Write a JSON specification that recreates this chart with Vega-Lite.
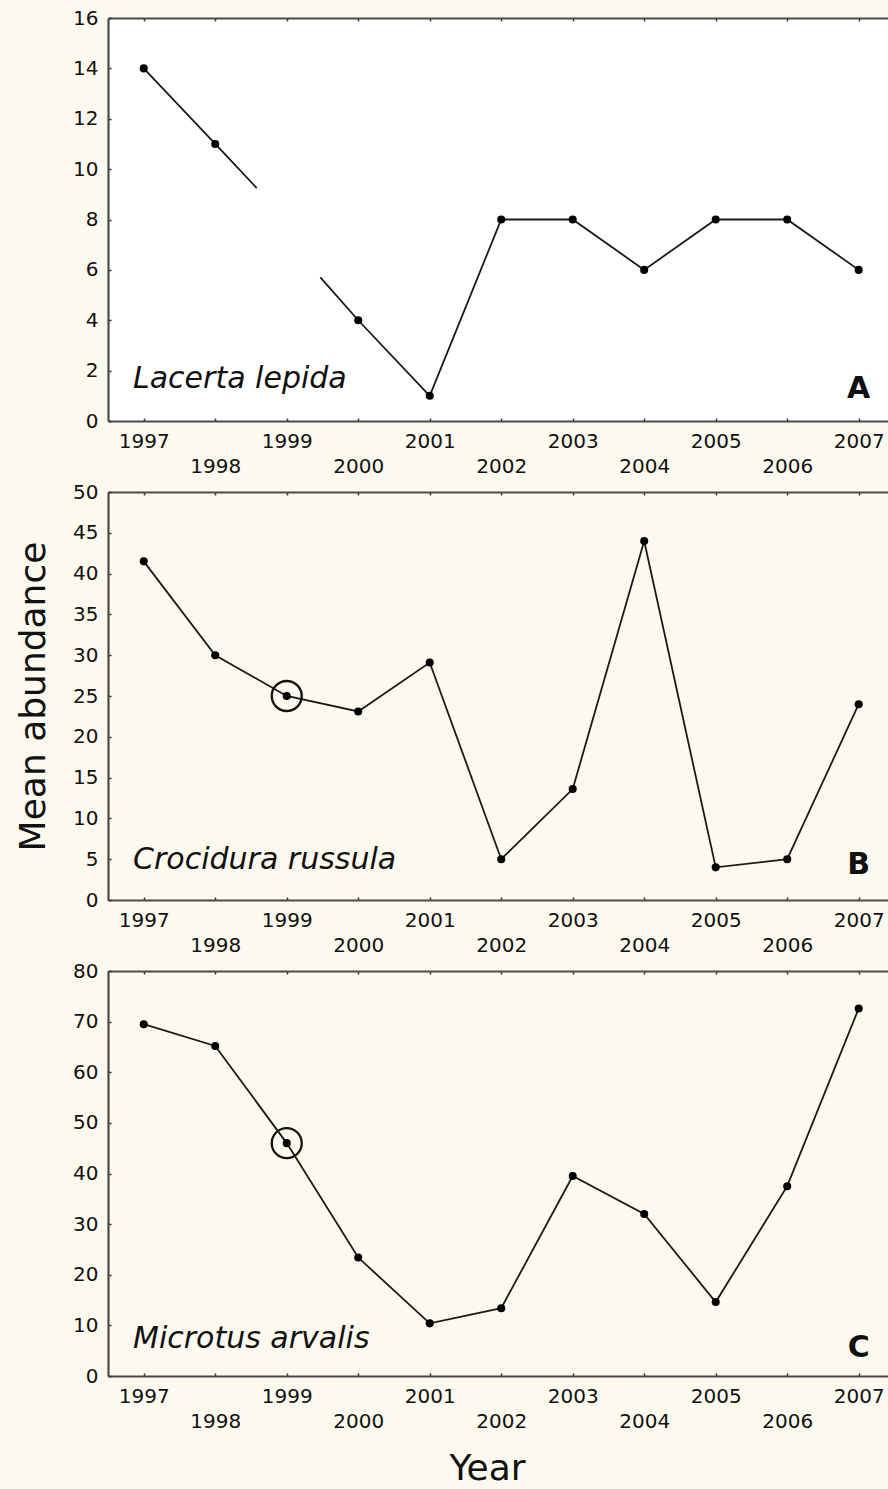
{
  "$schema": "https://vega.github.io/schema/vega-lite/v6.json",
  "background": "#fcf9ee",
  "padding": {"left": 15, "top": 8, "right": 0, "bottom": 4},
  "bounds": "flush",
  "spacing": 71,
  "config": {
    "font": "DejaVu Sans",
    "view": {"stroke": null},
    "axis": {
      "grid": false,
      "domainColor": "#4a4a4a",
      "domainWidth": 2.2,
      "tickColor": "#303030",
      "tickWidth": 1.5,
      "tickSize": -3,
      "labelFont": "DejaVu Sans",
      "labelFontSize": 20,
      "labelColor": "#111111",
      "titleFont": "DejaVu Sans",
      "titleFontWeight": "normal",
      "titleColor": "#111111"
    }
  },
  "datasets": {
    "abundance": [
      {"species": "Lacerta lepida", "year": 1997, "value": 14, "segment": 1, "observed": true},
      {"species": "Lacerta lepida", "year": 1998, "value": 11, "segment": 1, "observed": true},
      {"species": "Lacerta lepida", "year": 1998.58, "value": 9.25, "segment": 1, "observed": false},
      {"species": "Lacerta lepida", "year": 1999.47, "value": 5.7, "segment": 2, "observed": false},
      {"species": "Lacerta lepida", "year": 2000, "value": 4, "segment": 2, "observed": true},
      {"species": "Lacerta lepida", "year": 2001, "value": 1, "segment": 2, "observed": true},
      {"species": "Lacerta lepida", "year": 2002, "value": 8, "segment": 2, "observed": true},
      {"species": "Lacerta lepida", "year": 2003, "value": 8, "segment": 2, "observed": true},
      {"species": "Lacerta lepida", "year": 2004, "value": 6, "segment": 2, "observed": true},
      {"species": "Lacerta lepida", "year": 2005, "value": 8, "segment": 2, "observed": true},
      {"species": "Lacerta lepida", "year": 2006, "value": 8, "segment": 2, "observed": true},
      {"species": "Lacerta lepida", "year": 2007, "value": 6, "segment": 2, "observed": true},
      {"species": "Crocidura russula", "year": 1997, "value": 41.5, "segment": 1, "observed": true},
      {"species": "Crocidura russula", "year": 1998, "value": 30, "segment": 1, "observed": true},
      {"species": "Crocidura russula", "year": 1999, "value": 25, "segment": 1, "observed": true},
      {"species": "Crocidura russula", "year": 2000, "value": 23.1, "segment": 1, "observed": true},
      {"species": "Crocidura russula", "year": 2001, "value": 29.1, "segment": 1, "observed": true},
      {"species": "Crocidura russula", "year": 2002, "value": 5, "segment": 1, "observed": true},
      {"species": "Crocidura russula", "year": 2003, "value": 13.6, "segment": 1, "observed": true},
      {"species": "Crocidura russula", "year": 2004, "value": 44, "segment": 1, "observed": true},
      {"species": "Crocidura russula", "year": 2005, "value": 4, "segment": 1, "observed": true},
      {"species": "Crocidura russula", "year": 2006, "value": 5, "segment": 1, "observed": true},
      {"species": "Crocidura russula", "year": 2007, "value": 24, "segment": 1, "observed": true},
      {"species": "Microtus arvalis", "year": 1997, "value": 69.5, "segment": 1, "observed": true},
      {"species": "Microtus arvalis", "year": 1998, "value": 65.2, "segment": 1, "observed": true},
      {"species": "Microtus arvalis", "year": 1999, "value": 46, "segment": 1, "observed": true},
      {"species": "Microtus arvalis", "year": 2000, "value": 23.4, "segment": 1, "observed": true},
      {"species": "Microtus arvalis", "year": 2001, "value": 10.4, "segment": 1, "observed": true},
      {"species": "Microtus arvalis", "year": 2002, "value": 13.4, "segment": 1, "observed": true},
      {"species": "Microtus arvalis", "year": 2003, "value": 39.5, "segment": 1, "observed": true},
      {"species": "Microtus arvalis", "year": 2004, "value": 32, "segment": 1, "observed": true},
      {"species": "Microtus arvalis", "year": 2005, "value": 14.6, "segment": 1, "observed": true},
      {"species": "Microtus arvalis", "year": 2006, "value": 37.5, "segment": 1, "observed": true},
      {"species": "Microtus arvalis", "year": 2007, "value": 72.6, "segment": 1, "observed": true}
    ]
  },
  "vconcat": [
    {
      "width": 780,
      "height": 403,
      "view": {"fill": "#ffffff", "stroke": null},
      "resolve": {"axis": {"x": "independent", "y": "independent"}},
      "layer": [
        {
          "data": {"name": "abundance"},
          "transform": [{"filter": "datum.species == 'Lacerta lepida'"}],
          "mark": {"type": "line", "color": "#1a1a1a", "strokeWidth": 1.8},
          "encoding": {
            "x": {"field": "year", "type": "quantitative", "scale": {"domain": [1996.5, 2007.41], "nice": false, "zero": false},
              "axis": {"orient": "bottom", "values": [1997, 1998, 1999, 2000, 2001, 2002, 2003, 2004, 2005, 2006, 2007], "format": "d",
                "labelExpr": "datum.value % 2 == 0 ? ['', datum.label] : datum.label", "labelLineHeight": 25, "labelPadding": 13,
                "labelFlush": false, "labelOverlap": false, "title": null}},
            "y": {"field": "value", "type": "quantitative", "scale": {"domain": [0, 16], "nice": false},
              "axis": {"orient": "left", "values": [0, 2, 4, 6, 8, 10, 12, 14, 16], "labelPadding": 13, "labelFlush": false, "labelOverlap": false, "title": null}},
            "detail": {"field": "segment", "type": "nominal"}
          }
        },
        {
          "data": {"name": "abundance"},
          "transform": [{"filter": "datum.species == 'Lacerta lepida' && datum.observed"}],
          "mark": {"type": "point", "filled": true, "color": "#000000", "size": 65, "opacity": 1},
          "encoding": {
            "x": {"field": "year", "type": "quantitative",
              "axis": {"orient": "top", "values": [1997, 1998, 1999, 2000, 2001, 2002, 2003, 2004, 2005, 2006, 2007], "labels": false, "title": null}},
            "y": {"field": "value", "type": "quantitative", "axis": null}
          }
        },
        {
          "data": {"values": [{"label": "Lacerta lepida"}]},
          "mark": {"type": "text", "fontSize": 30, "fontStyle": "italic", "align": "left", "baseline": "alphabetic", "color": "#111111"},
          "encoding": {
            "x": {"datum": 1996.85, "type": "quantitative", "axis": null},
            "y": {"datum": 1.3, "type": "quantitative", "axis": null},
            "text": {"field": "label"}
          }
        },
        {
          "data": {"values": [{"label": "A"}]},
          "mark": {"type": "text", "fontSize": 30, "fontWeight": "bold", "align": "center", "baseline": "alphabetic", "color": "#111111"},
          "encoding": {
            "x": {"datum": 2007, "type": "quantitative", "axis": null},
            "y": {"datum": 0.9, "type": "quantitative", "axis": null},
            "text": {"field": "label"}
          }
        }
      ]
    },
    {
      "width": 780,
      "height": 408,
      "view": {"fill": "#fcf9ee", "stroke": null},
      "resolve": {"axis": {"x": "independent", "y": "independent"}},
      "layer": [
        {
          "data": {"name": "abundance"},
          "transform": [{"filter": "datum.species == 'Crocidura russula'"}],
          "mark": {"type": "line", "color": "#1a1a1a", "strokeWidth": 1.8},
          "encoding": {
            "x": {"field": "year", "type": "quantitative", "scale": {"domain": [1996.5, 2007.41], "nice": false, "zero": false},
              "axis": {"orient": "bottom", "values": [1997, 1998, 1999, 2000, 2001, 2002, 2003, 2004, 2005, 2006, 2007], "format": "d",
                "labelExpr": "datum.value % 2 == 0 ? ['', datum.label] : datum.label", "labelLineHeight": 25, "labelPadding": 13,
                "labelFlush": false, "labelOverlap": false, "title": null}},
            "y": {"field": "value", "type": "quantitative", "scale": {"domain": [0, 50], "nice": false},
              "axis": {"orient": "left", "values": [0, 5, 10, 15, 20, 25, 30, 35, 40, 45, 50], "labelPadding": 13, "labelFlush": false, "labelOverlap": false,
                "title": "Mean abundance", "titleFontSize": 36, "titlePadding": 20}},
            "detail": {"field": "segment", "type": "nominal"}
          }
        },
        {
          "data": {"name": "abundance"},
          "transform": [{"filter": "datum.species == 'Crocidura russula' && datum.observed"}],
          "mark": {"type": "point", "filled": true, "color": "#000000", "size": 65, "opacity": 1},
          "encoding": {
            "x": {"field": "year", "type": "quantitative",
              "axis": {"orient": "top", "values": [1997, 1998, 1999, 2000, 2001, 2002, 2003, 2004, 2005, 2006, 2007], "labels": false, "title": null}},
            "y": {"field": "value", "type": "quantitative", "axis": null}
          }
        },
        {
          "data": {"name": "abundance"},
          "transform": [{"filter": "datum.species == 'Crocidura russula' && datum.year == 1999"}],
          "mark": {"type": "point", "shape": "circle", "filled": false, "color": "#111111", "size": 900, "strokeWidth": 2.3, "opacity": 1},
          "encoding": {
            "x": {"field": "year", "type": "quantitative", "axis": null},
            "y": {"field": "value", "type": "quantitative", "axis": null}
          }
        },
        {
          "data": {"values": [{"label": "Crocidura russula"}]},
          "mark": {"type": "text", "fontSize": 30, "fontStyle": "italic", "align": "left", "baseline": "alphabetic", "color": "#111111"},
          "encoding": {
            "x": {"datum": 1996.85, "type": "quantitative", "axis": null},
            "y": {"datum": 3.8, "type": "quantitative", "axis": null},
            "text": {"field": "label"}
          }
        },
        {
          "data": {"values": [{"label": "B"}]},
          "mark": {"type": "text", "fontSize": 30, "fontWeight": "bold", "align": "center", "baseline": "alphabetic", "color": "#111111"},
          "encoding": {
            "x": {"datum": 2007, "type": "quantitative", "axis": null},
            "y": {"datum": 3.2, "type": "quantitative", "axis": null},
            "text": {"field": "label"}
          }
        }
      ]
    },
    {
      "width": 780,
      "height": 405,
      "view": {"fill": "#fcf9ee", "stroke": null},
      "resolve": {"axis": {"x": "independent", "y": "independent"}},
      "layer": [
        {
          "data": {"name": "abundance"},
          "transform": [{"filter": "datum.species == 'Microtus arvalis'"}],
          "mark": {"type": "line", "color": "#1a1a1a", "strokeWidth": 1.8},
          "encoding": {
            "x": {"field": "year", "type": "quantitative", "scale": {"domain": [1996.5, 2007.41], "nice": false, "zero": false},
              "axis": {"orient": "bottom", "values": [1997, 1998, 1999, 2000, 2001, 2002, 2003, 2004, 2005, 2006, 2007], "format": "d",
                "labelExpr": "datum.value % 2 == 0 ? ['', datum.label] : datum.label", "labelLineHeight": 25, "labelPadding": 13,
                "labelFlush": false, "labelOverlap": false, "title": "Year", "titleFontSize": 36, "titlePadding": 20, "titleX": 379}},
            "y": {"field": "value", "type": "quantitative", "scale": {"domain": [0, 80], "nice": false},
              "axis": {"orient": "left", "values": [0, 10, 20, 30, 40, 50, 60, 70, 80], "labelPadding": 13, "labelFlush": false, "labelOverlap": false, "title": null}},
            "detail": {"field": "segment", "type": "nominal"}
          }
        },
        {
          "data": {"name": "abundance"},
          "transform": [{"filter": "datum.species == 'Microtus arvalis' && datum.observed"}],
          "mark": {"type": "point", "filled": true, "color": "#000000", "size": 65, "opacity": 1},
          "encoding": {
            "x": {"field": "year", "type": "quantitative",
              "axis": {"orient": "top", "values": [1997, 1998, 1999, 2000, 2001, 2002, 2003, 2004, 2005, 2006, 2007], "labels": false, "title": null}},
            "y": {"field": "value", "type": "quantitative", "axis": null}
          }
        },
        {
          "data": {"name": "abundance"},
          "transform": [{"filter": "datum.species == 'Microtus arvalis' && datum.year == 1999"}],
          "mark": {"type": "point", "shape": "circle", "filled": false, "color": "#111111", "size": 900, "strokeWidth": 2.3, "opacity": 1},
          "encoding": {
            "x": {"field": "year", "type": "quantitative", "axis": null},
            "y": {"field": "value", "type": "quantitative", "axis": null}
          }
        },
        {
          "data": {"values": [{"label": "Microtus arvalis"}]},
          "mark": {"type": "text", "fontSize": 30, "fontStyle": "italic", "align": "left", "baseline": "alphabetic", "color": "#111111"},
          "encoding": {
            "x": {"datum": 1996.85, "type": "quantitative", "axis": null},
            "y": {"datum": 5.5, "type": "quantitative", "axis": null},
            "text": {"field": "label"}
          }
        },
        {
          "data": {"values": [{"label": "C"}]},
          "mark": {"type": "text", "fontSize": 30, "fontWeight": "bold", "align": "center", "baseline": "alphabetic", "color": "#111111"},
          "encoding": {
            "x": {"datum": 2007, "type": "quantitative", "axis": null},
            "y": {"datum": 3.8, "type": "quantitative", "axis": null},
            "text": {"field": "label"}
          }
        }
      ]
    }
  ]
}
